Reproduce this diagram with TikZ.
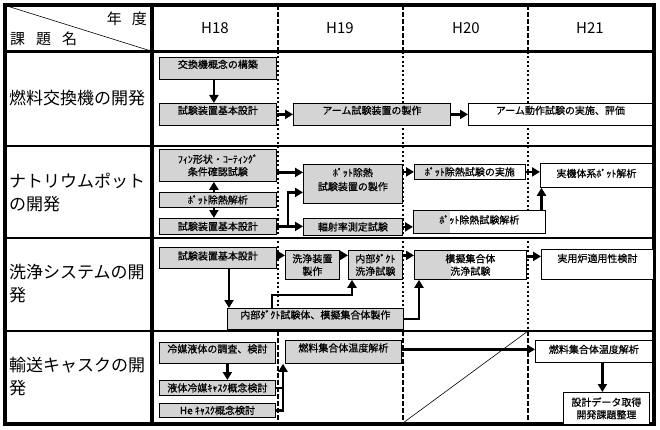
\documentclass[tikz,border=0pt]{standalone}
\usepackage{fontspec}
\newfontfamily\jp{Noto Sans CJK JP}
\newfontfamily\jpb[FakeBold=0.6]{Noto Sans CJK JP}
\usetikzlibrary{arrows.meta}
\definecolor{boxgray}{RGB}{212,212,212}
\begin{document}
\begin{tikzpicture}[x=1pt,y=-1pt,
  bx/.style={draw, line width=0.8pt, inner sep=0pt, anchor=north west, font=\jpb\fontsize{10}{12.5}\selectfont},
  gr/.style={fill=boxgray},
  wh/.style={fill=white},
  half/.style={fill=white, path picture={\fill[boxgray] (path picture bounding box.south west) rectangle ([xshift=37pt]path picture bounding box.north west);}},
  one/.style={text height=8pt, text depth=0.4pt},
  upm/.style={text height=6pt, text depth=2.4pt},
  upa/.style={text height=4pt, text depth=4.4pt},
  upb/.style={text height=4pt, text depth=8.4pt},
  two/.style={align=center},
  arr/.style={line width=2.5pt, -{Triangle[length=8pt,width=9pt]}},
  thk/.style={line width=2.5pt},
  lab/.style={font=\jp\fontsize{17}{23}\selectfont, inner sep=0pt, anchor=west, align=left},
  hd/.style={font=\jp\fontsize{15}{18}\selectfont, inner sep=0pt},
  yr/.style={font=\jp\fontsize{15}{18}\selectfont, inner sep=0pt},
  thickdash/.style={line width=2.5pt, dash pattern=on 5pt off 2pt},
  thindash/.style={line width=1.2pt, dash pattern=on 2pt off 2.5pt}
]
\fill[white] (0,0) rectangle (660,430);
\useasboundingbox (0,0) rectangle (660,430);

% table lines
\foreach \x in {278,403,528} {
  \draw[thickdash] (\x,5) -- (\x,52);
  \draw[thindash] (\x,52) -- (\x,331);
  \draw[thickdash] (\x,331) -- (\x,424);
}
\draw[line width=1.5pt] (5,146) -- (654,146) (5,238) -- (654,238) (5,331) -- (654,331);
\draw[line width=3pt] (5,52) -- (654,52);
\draw[line width=4pt] (152,5) -- (152,424);
\draw[line width=0.6pt] (7,6) -- (151,51);
\draw[line width=3.5pt] (5,5) rectangle (654,424);
\draw[line width=0.6pt] (403,423) -- (528,331);

% header
\node[hd, anchor=east] (hy) at (147,19) {年\hspace{10pt}度};
\node[hd, anchor=west] (hk) at (10,39) {課\hspace{11pt}題\hspace{11pt}名};
\node[yr] (h18) at (215,28) {H18};
\node[yr] (h19) at (340,28) {H19};
\node[yr] (h20) at (466,28) {H20};
\node[yr] (h21) at (590,28) {H21};

% row labels
\node[lab] (r1) at (9,98) {燃料交換機の開発};
\node[lab] (r2) at (9,192.5) {ナトリウムポット\\の開発};
\node[lab] (r3) at (9,284) {洗浄システムの開\\発};
\node[lab] (r4) at (9,377) {輸送キャスクの開\\発};

% row 1
\node[bx,gr,upa,minimum width=117pt,minimum height=22pt] (a1) at (159,57) {交換機概念の構築};
\node[bx,gr,upa,minimum width=117pt,minimum height=22pt] (a2) at (159,103) {試験装置基本設計};
\node[bx,gr,upa,minimum width=157pt,minimum height=22pt] (a3) at (293,103) {アーム試験装置の製作};
\node[bx,wh,upa,minimum width=184pt,minimum height=22pt] (a4) at (468,103) {アーム動作試験の実施、評価};

% row 2
\node[bx,gr,two,minimum width=117pt,minimum height=32pt] (b1) at (159,149) {ﾌｨﾝ形状・ｺｰﾃｨﾝｸﾞ\\条件確認試験};
\node[bx,gr,one,minimum width=117pt,minimum height=15pt] (b2) at (159,192) {ﾎﾟｯﾄ除熱解析};
\node[bx,gr,one,minimum width=117pt,minimum height=16pt] (b3) at (159,218) {試験装置基本設計};
\node[bx,gr,two,minimum width=99pt,minimum height=39pt] (b4) at (303,164) {ﾎﾟｯﾄ除熱\\[1.5pt]試験装置の製作\\[-3pt]\mbox{}};
\node[bx,gr,one,minimum width=99pt,minimum height=17pt] (b5) at (303,218) {輻射率測定試験};
\node[bx,half,one,minimum width=111pt,minimum height=15pt] (b6) at (414,164) {ﾎﾟｯﾄ除熱試験の実施};
\node[bx,half,upm,minimum width=132pt,minimum height=23pt] (b7) at (413,210) {ﾎﾟｯﾄ除熱試験解析};
\node[bx,wh,upm,minimum width=112pt,minimum height=24pt] (b8) at (540,163) {実機体系ﾎﾟｯﾄ解析};

% row 3
\node[bx,gr,upm,minimum width=117pt,minimum height=21pt] (c1) at (159,247) {試験装置基本設計};
\node[bx,gr,two,minimum width=54pt,minimum height=29pt] (c2) at (285,250) {洗浄装置\\製作};
\node[bx,gr,two,minimum width=54pt,minimum height=29pt] (c3) at (348,250) {内部ﾀﾞｸﾄ\\洗浄試験};
\node[bx,gr,upa,minimum width=176pt,minimum height=21pt] (c4) at (227,308) {内部ﾀﾞｸﾄ試験体、模擬集合体製作};
\node[bx,half,two,minimum width=112pt,minimum height=29pt] (c5) at (414,250) {模擬集合体\\洗浄試験};
\node[bx,wh,upb,minimum width=112pt,minimum height=30pt] (c6) at (541,249) {実用炉適用性検討};

% row 4
\node[bx,gr,upa,minimum width=116pt,minimum height=21pt] (d1) at (159,342) {冷媒液体の調査、検討};
\node[bx,gr,one,minimum width=116pt,minimum height=15pt] (d2) at (159,380) {液体冷媒ｷｬｽｸ概念検討};
\node[bx,gr,one,minimum width=116pt,minimum height=14pt] (d3) at (159,403) {He ｷｬｽｸ概念検討};
\node[bx,gr,upa,minimum width=116pt,minimum height=23pt] (d4) at (285,340) {燃料集合体温度解析};
\node[bx,wh,upm,minimum width=117pt,minimum height=22pt] (d5) at (535,340) {燃料集合体温度解析};
\node[bx,wh,two,minimum width=86pt,minimum height=32pt] (d6) at (563,392) {設計データ取得\\開発課題整理};

% arrows row 1
\draw[arr] ([xshift=-4pt]a1.south) -- ([xshift=-4pt]a1.south |- a2.north);
\draw[arr] (a2.east) -- (a3.west);
\draw[arr] (a3.east) -- (a4.west);

% arrows row 2
\draw[arr] ([xshift=-4pt]b2.north) -- ([xshift=-4pt]b2.north |- b1.south);
\draw[arr] ([xshift=-4pt]b2.south) -- ([xshift=-4pt]b2.south |- b3.north);
\draw[arr] ([yshift=-7pt]b1.east) -- ([yshift=-7pt]b1.east -| b4.west);
\draw[arr] (b3.east) -- ([xshift=11pt]b3.east) |- ([yshift=-8.5pt]b4.west);
\draw[arr] (b3.east) -- (b3.east -| b5.west);
\draw[arr] (b4.east |- b6.west) -- (b6.west);
\draw[arr] (b5.east) -- (b5.east -| b7.west);
\draw[arr] (b6.east) -- (b6.east -| b8.west);
\draw[arr] ([xshift=1.5pt]b8.south west |- b7.north) -- ([xshift=1.5pt]b8.south west);

% arrows row 3
\draw[arr] ([yshift=2.5pt]c1.east) -- ([yshift=2.5pt]c1.east -| c2.west);
\draw[arr] ([yshift=9.5pt]c2.east) -- ([yshift=9.5pt]c2.east -| c3.west);
\draw[arr] ([yshift=9.5pt]c3.east) -- ([yshift=9.5pt]c3.east -| c5.west);
\draw[arr] ([yshift=8.5pt]c5.east) -- ([yshift=8.5pt]c5.east -| c6.west);
\draw[arr] ([xshift=2pt]c1.south -| c4.north west) -- ([xshift=2pt]c4.north west);
\draw[arr] ([xshift=45pt]c4.north west) -- ([xshift=45pt,yshift=13pt]c4.north west) -| ([xshift=4pt]c3.south west);
\draw[arr] (c4.east) -| ([xshift=5pt]c5.south west);

% arrows row 4
\coordinate (dj) at ([xshift=-2pt]d4.south west);
\draw[arr] ([xshift=10pt]d1.south) -- ([xshift=10pt]d1.south |- d2.north);
\draw[thk] (d2.east) -- (d2.east -| dj);
\draw[arr] (d3.east) -| (dj);
\draw[arr] ([yshift=2.5pt]d4.east) -- ([yshift=2.5pt]d4.east -| d5.west);
\draw[arr] ([xshift=8.5pt]d5.south) -- ([xshift=8.5pt]d5.south |- d6.north);
\end{tikzpicture}
\end{document}
